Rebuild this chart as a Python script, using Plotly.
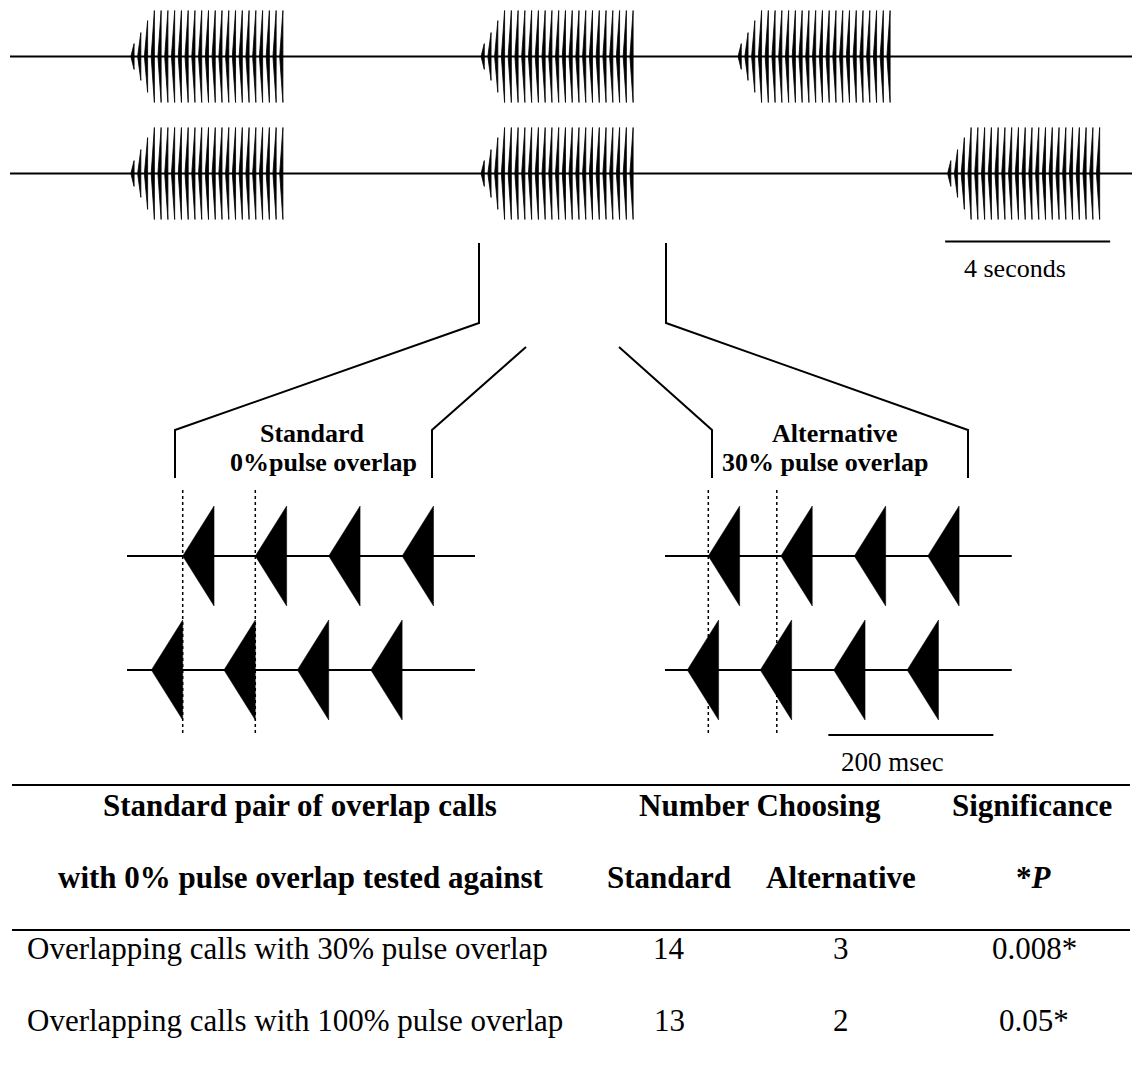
import plotly.graph_objects as go

W, H = 1134, 1073

# ================= DATA =================
# Top: two recorded traces (seconds); onsets of each call
row1_call_onsets_s = [2.93, 11.42, 17.65]
row2_call_onsets_s = [2.93, 11.42, 22.73]
recording_span_s = [0.0, 27.2]
pulse_period_s = 0.164
pulse_duration_s = 0.078
# relative amplitude of the 23 pulses within one call
pulse_amplitudes = [0.28, 0.52, 0.78, 1.0, 1.0, 1.0, 1.0, 1.0, 1.0, 1.0, 1.0, 1.0,
                    1.0, 1.0, 1.0, 1.0, 1.0, 1.0, 1.0, 1.0, 1.0, 1.0, 1.0]
time_scale_bar_s = [22.67, 26.67]
time_scale_label = "4 seconds"

# Detail panels (milliseconds); pulse onsets of the two calls in each pair
detail_pulse_duration_ms = 38
standard_call_a_ms = [0, 88, 177, 266]
standard_call_b_ms = [-38, 50, 139, 228]
alternative_call_a_ms = [0, 88, 177, 266]
alternative_call_b_ms = [-25.5, 63, 152, 241]
standard_span_ms = [-67.5, 354.3]
alternative_span_ms = [-52.5, 367.8]
standard_guides_ms = [0, 88]
alternative_guides_ms = [0, 83]
detail_scale_bar_ms = [145.5, 345.5]
detail_scale_label = "200 msec"

panel_titles = [("Standard", "0%pulse overlap"), ("Alternative", "30% pulse overlap")]

# Table
header_col0 = ["Standard pair of overlap calls", "with 0% pulse overlap tested against"]
header_group = "Number Choosing"
header_sig = "Significance"
subheaders = ["Standard", "Alternative", "*<i>P</i>"]
row_labels = ["Overlapping calls with 30% pulse overlap",
              "Overlapping calls with 100% pulse overlap"]
n_standard = [14, 13]
n_alternative = [3, 2]
p_values = ["0.008*", "0.05*"]

# ================= LAYOUT CONSTANTS =================
FONT = "Liberation Serif"
row_y = [56.5, 173.5]
pulse_half = 46
detail_row_y = [556, 670]
tri_half = 50
px_per_s = 41.25
px_per_ms = 0.825
origin_top_px = 10
origin_std_px = 182.7
origin_alt_px = 708.3

fig = go.Figure()


def add_line(xs, ys, xaxis, width=2, dash=None):
    fig.add_trace(go.Scatter(x=xs, y=ys, xaxis=xaxis, yaxis="y", mode="lines",
                             line=dict(color="black", width=width, dash=dash),
                             hoverinfo="skip", showlegend=False))


def add_triangles(onsets, dur, yc, half, amps, period, xaxis, lw):
    xs, ys = [], []
    for t0 in onsets:
        for k, a in enumerate(amps):
            t = t0 + k * period
            xs += [t, t + dur, t + dur, t, None]
            ys += [yc, yc - a * half, yc + a * half, yc, None]
    fig.add_trace(go.Scatter(x=xs, y=ys, xaxis=xaxis, yaxis="y", mode="lines",
                             fill="toself", fillcolor="black",
                             line=dict(color="black", width=lw),
                             hoverinfo="skip", showlegend=False))


# ---- top traces ----
for onsets, yc in zip([row1_call_onsets_s, row2_call_onsets_s], row_y):
    add_line(recording_span_s, [yc, yc], "x", width=2)
    add_triangles(onsets, pulse_duration_s, yc, pulse_half, pulse_amplitudes,
                  pulse_period_s, "x", 0.8)

add_line(time_scale_bar_s, [241.5, 241.5], "x", width=2)
fig.add_annotation(x=sum(time_scale_bar_s) / 2 - 0.3, y=268, xref="x", yref="y",
                   text=time_scale_label, showarrow=False,
                   font=dict(family=FONT, size=26, color="black"))

# ---- detail panels ----
one = [1.0]
for (a_on, b_on, span, guides, xa) in [
        (standard_call_a_ms, standard_call_b_ms, standard_span_ms, standard_guides_ms, "x2"),
        (alternative_call_a_ms, alternative_call_b_ms, alternative_span_ms, alternative_guides_ms, "x3")]:
    for g in guides:
        add_line([g, g], [490, 733], xa, width=1.5, dash="dot")
    for onsets, yc in zip([a_on, b_on], detail_row_y):
        add_line(span, [yc, yc], xa, width=2)
        add_triangles(onsets, detail_pulse_duration_ms, yc, tri_half, one, 0, xa, 0.5)

add_line(detail_scale_bar_ms, [735, 735], "x3", width=2)
fig.add_annotation(x=sum(detail_scale_bar_ms) / 2 - 22, y=762, xref="x3", yref="y",
                   text=detail_scale_label, showarrow=False,
                   font=dict(family=FONT, size=27, color="black"))

# ---- zoom brackets (layout, pixel axis x4) ----
add_line([479, 479, 175, 175], [243, 323, 430, 478], "x4", width=2)
add_line([526, 432, 432], [347, 430, 478], "x4", width=2)
add_line([619, 712, 712], [347, 430, 478], "x4", width=2)
add_line([666, 666, 968, 968], [243, 323, 430, 478], "x4", width=2)

for (t1, t2), (cx1, cx2) in zip(panel_titles, [(312, 323), (835, 825)]):
    fig.add_annotation(x=cx1, y=433, xref="x4", yref="y", text=f"<b>{t1}</b>",
                       showarrow=False, font=dict(family=FONT, size=26, color="black"))
    fig.add_annotation(x=cx2, y=462, xref="x4", yref="y", text=f"<b>{t2}</b>",
                       showarrow=False, font=dict(family=FONT, size=26, color="black"))

# ---- table ----
add_line([12, 1130], [785, 785], "x4", width=2.2)
add_line([12, 1130], [930, 930], "x4", width=2.2)

TS = 31
col_x = [300, 669, 841, 1034]


def txt(x, y, s, bold=False, **kw):
    fig.add_annotation(x=x, y=y, xref="x4", yref="y",
                       text=f"<b>{s}</b>" if bold else s, showarrow=False,
                       font=dict(family=FONT, size=TS, color="black"), **kw)


txt(col_x[0], 805, header_col0[0], bold=True)
txt(col_x[0], 877, header_col0[1], bold=True)
txt(760, 805, header_group, bold=True)
txt(1032, 805, header_sig, bold=True)
for cx, s in zip(col_x[1:], subheaders):
    txt(cx, 877, s, bold=True)

for i, yy in enumerate([948, 1020]):
    txt(25, yy, row_labels[i], xanchor="left")
    txt(col_x[1], yy, str(n_standard[i]))
    txt(col_x[2], yy, str(n_alternative[i]))
    txt(col_x[3], yy, p_values[i])

# ---- axes ----
hidden = dict(visible=False, showgrid=False, zeroline=False, fixedrange=True)
fig.update_layout(
    width=W, height=H, margin=dict(l=0, r=0, t=0, b=0),
    paper_bgcolor="white", plot_bgcolor="white", showlegend=False,
    xaxis=dict(range=[-origin_top_px / px_per_s, (W - origin_top_px) / px_per_s],
               domain=[0, 1], **hidden),
    xaxis2=dict(range=[-origin_std_px / px_per_ms, (W - origin_std_px) / px_per_ms],
                domain=[0, 1], overlaying="x", anchor="y", **hidden),
    xaxis3=dict(range=[-origin_alt_px / px_per_ms, (W - origin_alt_px) / px_per_ms],
                domain=[0, 1], overlaying="x", anchor="y", **hidden),
    xaxis4=dict(range=[0, W], domain=[0, 1], overlaying="x", anchor="y", **hidden),
    yaxis=dict(range=[H, 0], domain=[0, 1], **hidden),
)

fig.write_html("out.html")
